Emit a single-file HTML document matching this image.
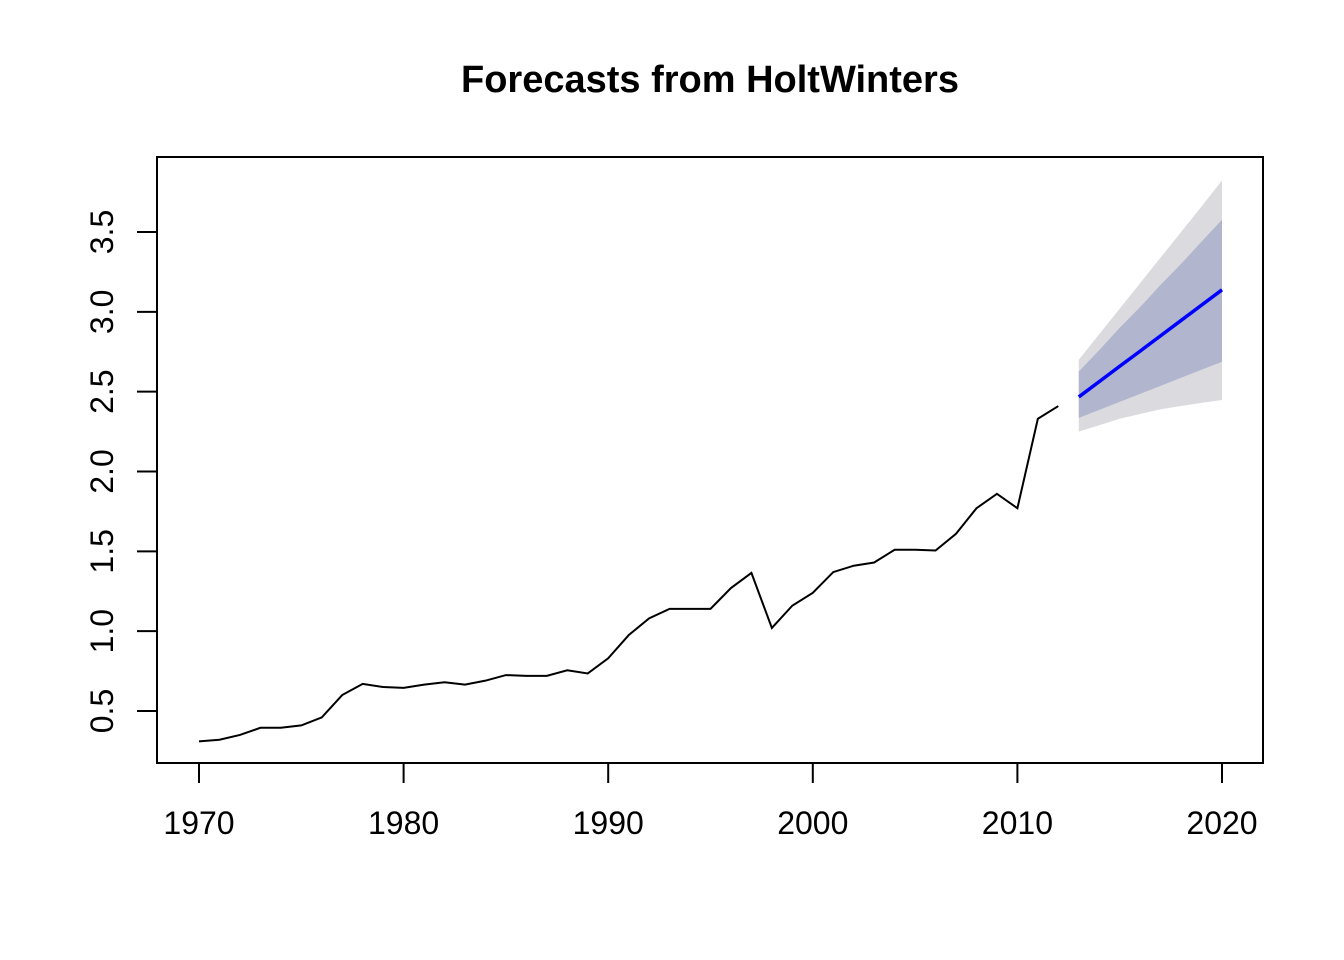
<!DOCTYPE html>
<html><head><meta charset="utf-8"><style>
html,body{margin:0;padding:0;background:#fff;}
svg{display:block;font-family:"Liberation Sans",Arial,sans-serif;}
</style></head><body>
<svg id="chart" width="1344" height="960" viewBox="0 0 1344 960" xmlns="http://www.w3.org/2000/svg">
<rect width="1344" height="960" fill="#fff"/>
<text x="710" y="92" text-anchor="middle" font-size="38" font-weight="bold">Forecasts from HoltWinters</text>
<g id="bands"></g>
<g id="series"></g>
<rect x="157" y="157" width="1106" height="606" fill="none" stroke="#000" stroke-width="2"/>
<g id="axes"></g>
</svg>
<script>
const years = [1970,1971,1972,1973,1974,1975,1976,1977,1978,1979,1980,1981,1982,1983,1984,1985,1986,1987,1988,1989,1990,1991,1992,1993,1994,1995,1996,1997,1998,1999,2000,2001,2002,2003,2004,2005,2006,2007,2008,2009,2010,2011,2012];
const observed = [0.31,0.32,0.35,0.395,0.395,0.41,0.46,0.60,0.67,0.65,0.645,0.665,0.68,0.665,0.69,0.725,0.72,0.72,0.755,0.735,0.83,0.975,1.08,1.14,1.14,1.14,1.27,1.365,1.02,1.16,1.24,1.37,1.41,1.43,1.51,1.51,1.505,1.61,1.77,1.86,1.77,2.33,2.41];
const fcYears = [2013,2014,2015,2016,2017,2018,2019,2020];
const fcMean = [2.467,2.563,2.659,2.754,2.85,2.946,3.042,3.138];
const hi80 = [2.626,2.76,2.90,3.03,3.17,3.30,3.44,3.577];
const lo80 = [2.336,2.386,2.436,2.486,2.536,2.587,2.637,2.687];
const hi95 = [2.70,2.86,3.02,3.18,3.34,3.50,3.66,3.823];
const lo95 = [2.25,2.29,2.33,2.36,2.39,2.41,2.43,2.448];
const xTicks = [1970,1980,1990,2000,2010,2020];
const yTicks = [0.5,1.0,1.5,2.0,2.5,3.0,3.5];
const yTickLabels = ["0.5","1.0","1.5","2.0","2.5","3.0","3.5"];

const NS="http://www.w3.org/2000/svg";
const xs = y => 199 + (y-1970)*(1222-199)/50;
const ys = v => 711 - (v-0.5)*(711-232)/3;
function mk(tag, attrs, parent){const e=document.createElementNS(NS,tag);for(const k in attrs)e.setAttribute(k,attrs[k]);parent.appendChild(e);return e;}
const bands=document.getElementById('bands'), series=document.getElementById('series'), axes=document.getElementById('axes');
function band(hi,lo,fill,name){
  let pts=fcYears.map((y,i)=>xs(y)+','+ys(hi[i]));
  pts=pts.concat(fcYears.map((y,i)=>xs(y)+','+ys(lo[i])).reverse());
  const p=mk('polygon',{points:pts.join(' '),fill:fill},bands);
  
  
}
band(hi95,lo95,'#DBDBDF','band-95');
band(hi80,lo80,'#B1B5CE','band-80');
const obs=mk('polyline',{points:years.map((y,i)=>xs(y)+','+ys(observed[i])).join(' '),fill:'none',stroke:'#000','stroke-width':2},series);


const fl=mk('polyline',{points:fcYears.map((y,i)=>xs(y)+','+ys(fcMean[i])).join(' '),fill:'none',stroke:'#0000FF','stroke-width':3.5},series);


xTicks.forEach(t=>{
  const l=mk('line',{x1:xs(t),x2:xs(t),y1:763,y2:783,stroke:'#000','stroke-width':2},axes);
  
  
  const tx=mk('text',{x:xs(t),y:834,'text-anchor':'middle','font-size':32},axes);
  tx.textContent=t;
  
  
});
yTicks.forEach((t,i)=>{
  const l=mk('line',{x1:137,x2:157,y1:ys(t),y2:ys(t),stroke:'#000','stroke-width':2},axes);
  
  
  const tx=mk('text',{x:0,y:0,'text-anchor':'middle','font-size':32,transform:'translate(113,'+ys(t)+') rotate(-90)'},axes);
  tx.textContent=yTickLabels[i];
  
  
});
</script>
</body></html>
